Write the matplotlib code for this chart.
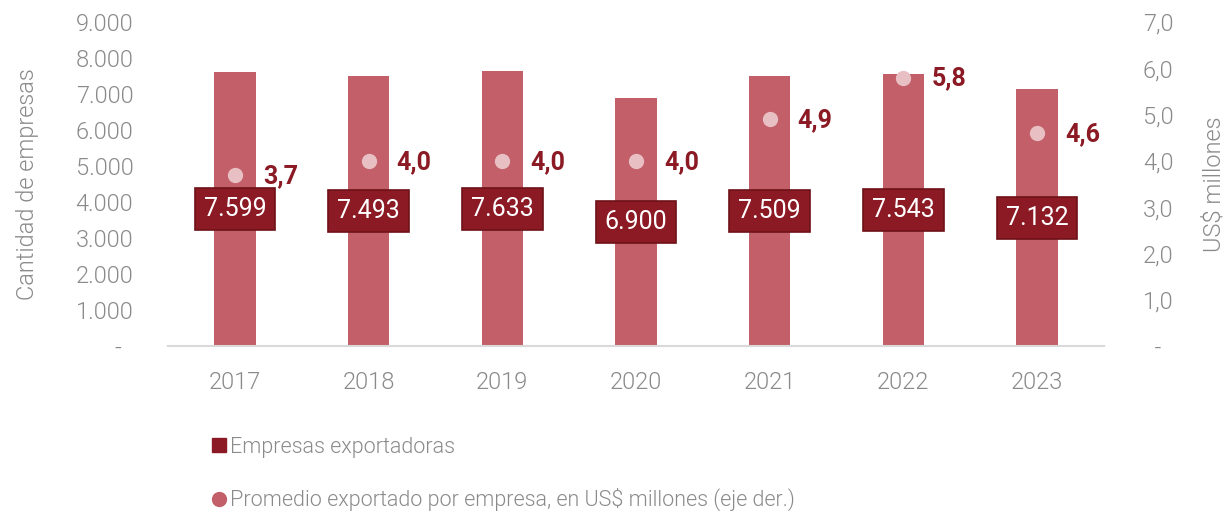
import matplotlib
matplotlib.use("Agg")
import matplotlib.pyplot as plt
from matplotlib.lines import Line2D

years = ["2017", "2018", "2019", "2020", "2021", "2022", "2023"]
empresas = [7599, 7493, 7633, 6900, 7509, 7543, 7132]
promedio = [3.7, 4.0, 4.0, 4.0, 4.9, 5.8, 4.6]
left_ticks = [0, 1000, 2000, 3000, 4000, 5000, 6000, 7000, 8000, 9000]
left_labels = ["-  ", "1.000", "2.000", "3.000", "4.000", "5.000", "6.000", "7.000", "8.000", "9.000"]
right_ticks = [0, 1, 2, 3, 4, 5, 6, 7]
right_labels = ["  -", "1,0", "2,0", "3,0", "4,0", "5,0", "6,0", "7,0"]

BAR = "#c25f69"
DARK = "#8b1a24"
DOT = "#e8c0c3"
GRAY = "#8a8a8a"
FONT = "Roboto"
LW = 300
plt.rcParams["font.family"] = [FONT, "DejaVu Sans"]

fig = plt.figure(figsize=(12.3, 5.12), dpi=100)
ax = fig.add_axes([168/1230, 1-346/512, 936/1230, 324/512])
x = list(range(len(years)))
ax.bar(x, empresas, width=0.31, color=BAR, zorder=2)
ax.set_xlim(-0.5, len(years)-0.5)
ax.set_ylim(0, 9000)
ax.set_yticks(left_ticks)
ax.set_yticklabels(left_labels)
ax.set_xticks(x)
ax.set_xticklabels(years)
for s in ["top", "right", "left"]:
    ax.spines[s].set_visible(False)
ax.spines["bottom"].set_color("#d9d9d9")
ax.spines["bottom"].set_linewidth(1.5)
ax.tick_params(length=0, labelsize=17, labelcolor=GRAY)
ax.tick_params(axis="y", pad=25)
ax.tick_params(axis="x", pad=18)
for t in ax.get_xticklabels() + ax.get_yticklabels():
    t.set_fontweight(LW)
ax.set_ylabel("Cantidad de empresas", fontsize=17, color=GRAY, fontweight=LW, labelpad=26)

for xi, v in zip(x, empresas):
    ax.text(xi, v/2, f"{v:,}".replace(",", "."), ha="center", va="center", color="white",
            fontsize=18, fontweight="normal", zorder=5,
            bbox=dict(boxstyle="square,pad=0.36", fc=DARK, ec="#6e1219", lw=1.2))

ax2 = ax.twinx()
ax2.set_ylim(0, 7)
ax2.set_yticks(right_ticks)
ax2.set_yticklabels(right_labels)
for s in ["top", "right", "left", "bottom"]:
    ax2.spines[s].set_visible(False)
ax2.tick_params(length=0, labelsize=17, labelcolor=GRAY, pad=28)
for t in ax2.get_yticklabels():
    t.set_fontweight(LW)
ax2.set_ylabel("US$ millones", fontsize=17, color=GRAY, fontweight=LW, labelpad=21)
ax2.plot(x, promedio, "o", color=DOT, ms=10, linestyle="none", zorder=4)
for xi, v in zip(x, promedio):
    ax2.annotate(f"{v:.1f}".replace(".", ","), (xi, v), xytext=(28, -1), textcoords="offset pixels",
                 ha="left", va="center", color=DARK, fontsize=18, fontweight="bold")

handles = [Line2D([], [], marker="s", color=DARK, linestyle="none", ms=10),
           Line2D([], [], marker="o", color=BAR, linestyle="none", ms=10)]
labels = ["Empresas exportadoras", "Promedio exportado por empresa, en US$ millones (eje der.)"]
leg = fig.legend(handles, labels, loc="upper left", bbox_to_anchor=(208/1230, 1-437/512),
                 frameon=False, fontsize=15.5, handletextpad=0.0, handlelength=1.0,
                 labelspacing=1.4, borderaxespad=0, borderpad=0)
for t in leg.get_texts():
    t.set_color(GRAY)
    t.set_fontweight(LW)

fig.savefig("out.png", dpi=100)
